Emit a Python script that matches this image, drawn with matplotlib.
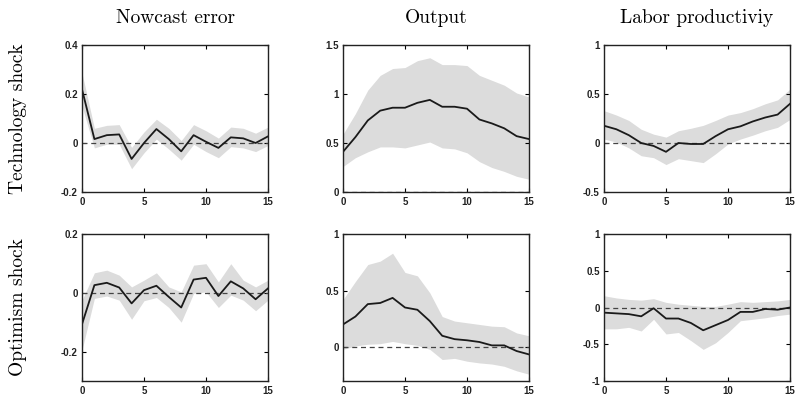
import matplotlib
matplotlib.use("Agg")
import matplotlib.pyplot as plt
import numpy as np

horizon = list(range(16))
col_titles = ["Nowcast error", "Output", "Labor productiviy"]
row_titles = ["Technology shock", "Optimism shock"]

# Technology shock
tech_now_mean = [0.219, 0.016, 0.032, 0.035, -0.065, 0.0, 0.057, 0.016, -0.034, 0.032, 0.005, -0.020, 0.023, 0.019, 0.0, 0.027]
tech_now_up = [0.286, 0.060, 0.072, 0.075, -0.018, 0.045, 0.097, 0.060, 0.010, 0.075, 0.050, 0.020, 0.065, 0.060, 0.040, 0.065]
tech_now_lo = [0.150, -0.020, -0.005, -0.005, -0.105, -0.040, 0.016, -0.025, -0.070, -0.005, -0.035, -0.060, -0.015, -0.020, -0.035, -0.010]

tech_out_mean = [0.41, 0.56, 0.73, 0.83, 0.86, 0.86, 0.91, 0.94, 0.87, 0.87, 0.85, 0.74, 0.70, 0.65, 0.57, 0.54]
tech_out_up = [0.59, 0.80, 1.04, 1.19, 1.26, 1.27, 1.34, 1.37, 1.30, 1.30, 1.29, 1.19, 1.14, 1.09, 1.01, 0.97]
tech_out_lo = [0.26, 0.35, 0.41, 0.46, 0.46, 0.45, 0.48, 0.51, 0.45, 0.44, 0.40, 0.31, 0.25, 0.21, 0.16, 0.13]

tech_lp_mean = [0.176, 0.14, 0.08, 0.0, -0.03, -0.09, 0.0, -0.01, -0.01, 0.07, 0.14, 0.17, 0.22, 0.26, 0.29, 0.40]
tech_lp_up = [0.33, 0.285, 0.23, 0.14, 0.09, 0.06, 0.125, 0.15, 0.18, 0.23, 0.285, 0.31, 0.35, 0.40, 0.44, 0.55]
tech_lp_lo = [0.04, 0.01, -0.05, -0.13, -0.15, -0.22, -0.16, -0.18, -0.20, -0.11, -0.01, 0.04, 0.08, 0.125, 0.16, 0.24]

# Optimism shock
opt_now_mean = [-0.107, 0.026, 0.034, 0.018, -0.036, 0.009, 0.024, -0.014, -0.050, 0.045, 0.051, -0.011, 0.039, 0.015, -0.022, 0.015]
opt_now_up = [-0.025, 0.068, 0.077, 0.060, 0.020, 0.043, 0.068, 0.020, 0.003, 0.094, 0.099, 0.037, 0.099, 0.043, 0.020, 0.043]
opt_now_lo = [-0.195, -0.019, -0.011, -0.025, -0.090, -0.027, -0.016, -0.050, -0.100, -0.002, 0.003, -0.050, -0.008, -0.025, -0.061, -0.025]

opt_out_mean = [0.20, 0.27, 0.38, 0.39, 0.435, 0.35, 0.33, 0.23, 0.10, 0.07, 0.06, 0.045, 0.015, 0.015, -0.035, -0.065]
opt_out_up = [0.42, 0.58, 0.73, 0.76, 0.83, 0.66, 0.63, 0.48, 0.27, 0.23, 0.215, 0.20, 0.185, 0.18, 0.125, 0.10]
opt_out_lo = [-0.02, 0.01, 0.025, 0.03, 0.05, 0.03, 0.015, -0.02, -0.11, -0.10, -0.125, -0.14, -0.15, -0.17, -0.21, -0.24]

opt_lp_mean = [-0.07, -0.08, -0.09, -0.12, -0.01, -0.15, -0.15, -0.21, -0.31, -0.24, -0.17, -0.06, -0.06, -0.02, -0.03, 0.0]
opt_lp_up = [0.16, 0.13, 0.11, 0.10, 0.12, 0.07, 0.045, 0.03, 0.015, 0.015, 0.045, 0.08, 0.07, 0.08, 0.09, 0.11]
opt_lp_lo = [-0.29, -0.29, -0.27, -0.32, -0.16, -0.36, -0.34, -0.45, -0.57, -0.48, -0.34, -0.18, -0.16, -0.14, -0.11, -0.09]

panels = [
    [(tech_now_mean, tech_now_lo, tech_now_up, (-0.2, 0.4), [-0.2, 0, 0.2, 0.4], ["-0.2", "0", "0.2", "0.4"]),
     (tech_out_mean, tech_out_lo, tech_out_up, (0, 1.5), [0, 0.5, 1, 1.5], ["0", "0.5", "1", "1.5"]),
     (tech_lp_mean, tech_lp_lo, tech_lp_up, (-0.5, 1), [-0.5, 0, 0.5, 1], ["-0.5", "0", "0.5", "1"])],
    [(opt_now_mean, opt_now_lo, opt_now_up, (-0.3, 0.2), [-0.2, 0, 0.2], ["-0.2", "0", "0.2"]),
     (opt_out_mean, opt_out_lo, opt_out_up, (-0.3, 1), [0, 0.5, 1], ["0", "0.5", "1"]),
     (opt_lp_mean, opt_lp_lo, opt_lp_up, (-1, 1), [-1, -0.5, 0, 0.5, 1], ["-1", "-0.5", "0", "0.5", "1"])],
]

fig = plt.figure(figsize=(7.97, 3.97), dpi=100)
W, H = 797, 397
lefts = [82, 343, 604]
width = 186
tops = [45, 234]
height = 147

serif = ["cmr10", "Liberation Serif", "DejaVu Serif"]
for r in range(2):
    for c in range(3):
        mean, lo, up, ylim, yt, ytl = panels[r][c]
        ax = fig.add_axes([lefts[c] / W, 1 - (tops[r] + height) / H, width / W, height / H])
        ax.fill_between(horizon, lo, up, color="#dcdcdc", linewidth=0)
        ax.axhline(0, color="#444444", linestyle=(0, (4, 3)), linewidth=0.9)
        ax.plot(horizon, mean, color="#1a1a1a", linewidth=1.3)
        ax.set_xlim(0, 15)
        ax.set_ylim(*ylim)
        ax.set_xticks([0, 5, 10, 15])
        ax.set_xticklabels(["0", "5", "10", "15"])
        ax.set_yticks(yt)
        ax.set_yticklabels(ytl)
        ax.tick_params(direction="in", top=True, right=True, length=3, width=0.8,
                       labelsize=7, labelcolor="#222222")
        ax.tick_params(axis="x", pad=3.5)
        ax.tick_params(axis="y", pad=3)
        for lab in ax.get_xticklabels() + ax.get_yticklabels():
            lab.set_fontweight("bold")
            lab.set_family(["Liberation Sans", "DejaVu Sans"])
        for s in ax.spines.values():
            s.set_linewidth(1.0)
            s.set_color("#222222")
        if r == 0:
            ax.set_title(col_titles[c], fontsize=14, family=serif, pad=16)
        if c == 0:
            ax.text(-0.345, 0.5, row_titles[r], rotation=90, transform=ax.transAxes,
                    ha="center", va="center", fontsize=14, family=serif)

fig.savefig("out.png", dpi=100)
